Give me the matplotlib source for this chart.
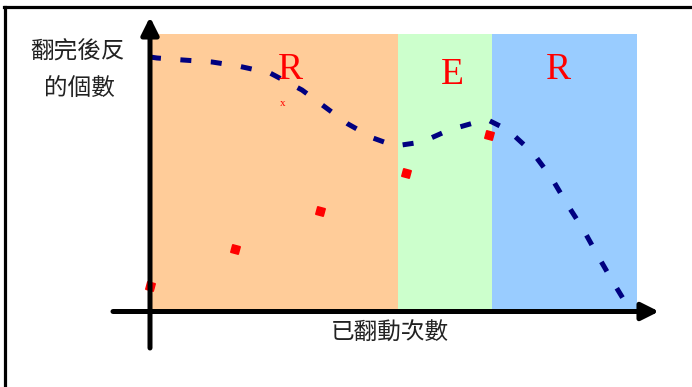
import matplotlib
matplotlib.use("Agg")
import matplotlib.pyplot as plt
from matplotlib.lines import Line2D

plt.rcParams['font.family'] = ['Noto Sans CJK TC', 'DejaVu Sans']

# ---- data (units: flips on x, count on y; origin at axis crossing) ----
curve_x = [0, 7, 33, 62, 88, 120, 152, 175, 198, 223, 245, 272, 299, 327, 338, 358, 383, 401, 417, 433, 448, 463, 477]
curve_y = [254, 253, 251, 249, 245, 238, 221, 204, 187, 173, 165, 169, 181, 189, 191, 181, 158, 134, 107, 82, 55, 29, 6]

point_x = [0, 85, 170, 256, 339]
point_y = [25, 62, 100, 138, 176]

region_edges = [2, 248, 342, 487]
region_colors = ['#FFCC99', '#CCFFCC', '#99CCFF']
region_top = 277
region_labels = ['R', 'E', 'R']
region_label_x = [140, 302, 408]
region_label_y = [241, 236, 241]

ylabel_lines = ['翻完後反', '的個數']
xlabel_text = '已翻動次數'

fig = plt.figure(figsize=(6.92, 3.87), dpi=100)
ax = fig.add_axes([0, 0, 1, 1])
ax.set_xlim(-150, 542)
ax.set_ylim(-76, 311)
ax.axis('off')

# background regions
for i, c in enumerate(region_colors):
    ax.fill_between([region_edges[i], region_edges[i + 1]], 0, region_top,
                    color=c, lw=0, zorder=1)

# dashed curve
ax.plot(curve_x, curve_y, color='#000080', lw=3.6, ls=(0, (2.2, 3.9)),
        dash_capstyle='butt', zorder=3)

# red diamonds
ax.plot(point_x, point_y, ls='none', marker=(4, 0, 30), markersize=8,
        color='#FF0000', mec='#FF0000', zorder=4)

# region labels
for lab, lx, ly in zip(region_labels, region_label_x, region_label_y):
    ax.text(lx, ly, lab, color='#FF0000', fontsize=27, family='Liberation Serif',
            ha='center', va='center', zorder=5)
ax.text(133, 208, 'x', color='#FF0000', fontsize=8, family='Liberation Serif',
        ha='center', va='center', zorder=5)

# axes with arrows
ax.annotate('', xy=(0, 294), xytext=(0, -37),
            arrowprops=dict(arrowstyle='-|>', lw=3.6, color='black',
                            mutation_scale=26, shrinkA=0, shrinkB=0), zorder=6)
ax.annotate('', xy=(509, -0.5), xytext=(-37, -0.5),
            arrowprops=dict(arrowstyle='-|>', lw=3.6, color='black',
                            mutation_scale=26, shrinkA=0, shrinkB=0), zorder=6)

# labels
lab_kw = dict(fontsize=17, color='#222222', ha='center', va='center', fontweight='light')
ax.text(-72, 259, ylabel_lines[0], **lab_kw)
ax.text(-71, 223, ylabel_lines[1], **lab_kw)
ax.text(240, -22, xlabel_text, **lab_kw)

# frame lines (top and left only)
fig.add_artist(Line2D([4 / 692, 1], [1 - 7 / 387, 1 - 7 / 387], color='black', lw=2.3))
fig.add_artist(Line2D([5 / 692, 5 / 692], [0, 1 - 7 / 387], color='black', lw=2.3))

fig.savefig('out.png', dpi=100)
